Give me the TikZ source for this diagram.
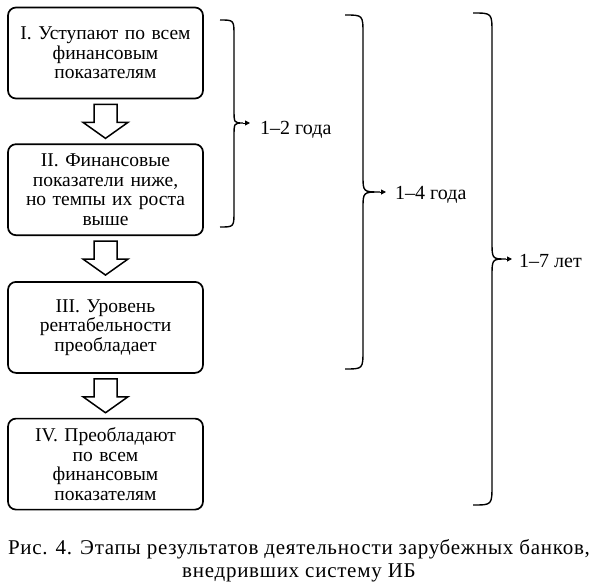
\documentclass[tikz,border=0pt]{standalone}
\usepackage{fontspec}
\setmainfont{Liberation Serif}
\usepackage{tikz}
\usetikzlibrary{arrows.meta}
\usetikzlibrary{positioning}
\usetikzlibrary{calc}

\tikzset{
    stagebox/.style={draw, line width=1.7pt, rounded corners=8pt, minimum width=195pt,
        minimum height=91pt, text width=190pt, align=center, inner sep=0pt,
        font=\fontsize{19.5}{19.5}\selectfont},
    hollow/.style={draw, line width=1.5pt, line join=miter, fill=white},
    curly/.style={line width=1.4pt},
    tipline/.style={line width=1pt, -{Triangle[length=5pt,width=5pt]}},
    span/.style={anchor=west, inner sep=0pt, font=\fontsize{20}{20}\selectfont}
}

\begin{document}
\begin{tikzpicture}[x=1pt,y=-1pt]
\useasboundingbox (0,0) rectangle (595,584);
% stages
\node[stagebox] (s1) at (105.5,53) {I. Уступают по всем\\ финансовым\\ показателям};
\node[stagebox, below=44pt of s1] (s2) {II. Финансовые\\ показатели ниже,\\ но темпы их роста\\ выше};
\node[stagebox, below=45pt of s2] (s3) {III. Уровень\\ рентабельности\\ преобладает};
\node[stagebox, below=44pt of s3] (s4) {IV. Преобладают\\ по всем\\ финансовым\\ показателям};
% hollow arrows
\foreach \a in {s1,s2,s3}
    \draw[hollow] ($(\a.south)+(-11.5,5)$) -- ++(23,0) -- ++(0,18) -- ++(11,0)
        -- ++(-22.5,16) -- ++(-22.5,-16) -- ++(11,0) -- cycle;
% braces
\draw[curly] (220,20) .. controls (234,20) .. (234,36) -- (234,109)
    .. controls (234,123) .. (243,123) .. controls (234,123) .. (234,137)
    -- (234,211) .. controls (234,227) .. (220,227);
\coordinate (t1) at (250,123);
\draw[tipline] (243,123) -- (t1);
\node[span, right=10pt of t1, yshift=-7pt] (l1) {1–2 года};

\draw[curly] (345,15) .. controls (363,15) .. (363,34) -- (363,175)
    .. controls (363,192) .. (380,192) .. controls (363,192) .. (363,209)
    -- (363,350) .. controls (363,369) .. (345,369);
\coordinate (t2) at (386,192);
\draw[tipline] (380,192) -- (t2);
\node[span, right=9pt of t2, yshift=-3pt] (l2) {1–4 года};

\draw[curly] (473,13) .. controls (492,13) .. (492,33) -- (492,241)
    .. controls (492,259) .. (506,259) .. controls (492,259) .. (492,277)
    -- (492,485) .. controls (492,505) .. (473,505);
\coordinate (t3) at (512,259);
\draw[tipline] (506,259) -- (t3);
\node[span, right=7pt of t3, yshift=-2pt] (l3) {1–7 лет};
% caption
\node[anchor=base, align=center, inner sep=0pt,
    font=\fontsize{21}{23}\selectfont\addfontfeature{LetterSpace=3.5}]
    (cap) at (299,577) {Рис. 4. Этапы результатов деятельности зарубежных банков,\\ внедривших систему ИБ};
\end{tikzpicture}
\end{document}
